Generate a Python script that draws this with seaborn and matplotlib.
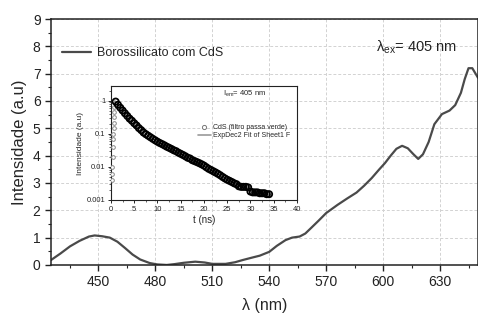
import numpy as np
import pandas as pd
import matplotlib
matplotlib.use("Agg")
import matplotlib.pyplot as plt
import seaborn as sns
from matplotlib.ticker import MultipleLocator, FixedLocator, FixedFormatter
from matplotlib.lines import Line2D

# emission spectrum (main plot)
wavelength = [425, 430, 435, 440, 445, 448, 452, 456, 460, 464, 468, 472, 477,
              481, 486, 490, 495, 501, 506, 510, 517, 522, 526, 531, 535, 540,
              544, 548.6, 552, 556, 559, 562, 566, 570, 576, 581, 586, 590, 594,
              598, 601, 604, 607, 610, 613, 616, 618.5, 621, 624, 627, 631, 635,
              638, 641, 643, 645, 647, 650]
intensity = [0.18, 0.42, 0.68, 0.88, 1.04, 1.08, 1.05, 1.0, 0.85, 0.62, 0.38, 0.2, 0.07,
             0.02, 0.0, 0.03, 0.08, 0.12, 0.09, 0.04, 0.04, 0.1, 0.18, 0.27, 0.34, 0.48,
             0.7, 0.91, 1.0, 1.04, 1.15, 1.35, 1.62, 1.9, 2.2, 2.43, 2.65, 2.9, 3.18,
             3.5, 3.73, 4.0, 4.25, 4.36, 4.27, 4.05, 3.88, 4.05, 4.5, 5.15, 5.52, 5.65,
             5.85, 6.3, 6.8, 7.2, 7.2, 6.85]

# decay (inset): rising edge, then decay every 0.5 ns
rise_t = [0.2, 0.25, 0.3, 0.35, 0.4, 0.45, 0.5, 0.55, 0.6, 0.65, 0.7, 0.75, 0.8]
rise_val = [0.004, 0.006, 0.01, 0.02, 0.04, 0.07, 0.1, 0.15, 0.22, 0.32, 0.47, 0.65, 0.85]
decay_t = [1, 1.5, 2, 2.5, 3, 3.5, 4, 4.5, 5, 5.5, 6, 6.5, 7, 7.5, 8, 8.5, 9, 9.5,
           10, 10.5, 11, 11.5, 12, 12.5, 13, 13.5, 14, 14.5, 15, 15.5, 16, 16.5,
           17, 17.5, 18, 18.5, 19, 19.5, 20, 20.5, 21, 21.5, 22, 22.5, 23, 23.5,
           24, 24.5, 25, 25.5, 26, 26.5, 27, 27.5, 28, 28.5, 29, 29.5, 30, 30.5,
           31, 31.5, 32, 32.5, 33, 33.5, 34]
decay_val = [0.95, 0.76, 0.62, 0.51, 0.42, 0.35, 0.29, 0.25, 0.21, 0.18, 0.15, 0.13,
             0.11, 0.098, 0.088, 0.079, 0.071, 0.064, 0.058, 0.053, 0.049, 0.045,
             0.041, 0.038, 0.035, 0.032, 0.030, 0.027, 0.025, 0.023, 0.021, 0.019,
             0.018, 0.016, 0.015, 0.014, 0.013, 0.012, 0.011, 0.0098, 0.0088, 0.0081,
             0.0074, 0.0068, 0.0062, 0.0056, 0.0050, 0.0045, 0.0041, 0.0038, 0.0035,
             0.0032, 0.0030, 0.0026, 0.0025, 0.0025, 0.0025, 0.0024, 0.0018, 0.0017,
             0.0017, 0.0017, 0.0016, 0.0016, 0.0016, 0.0015, 0.0015]
fit_t = [0.8, 2, 4, 6, 8, 10, 13, 16, 20, 24, 28, 32, 34.5]
fit_val = [1.0, 0.6, 0.29, 0.15, 0.088, 0.058, 0.035, 0.021, 0.011, 0.005, 0.0026, 0.0016, 0.0014]

spec = pd.DataFrame({"wl": wavelength, "I": intensity})
rise = pd.DataFrame({"t": rise_t, "v": rise_val})
dec = pd.DataFrame({"t": decay_t, "v": decay_val})
fit = pd.DataFrame({"t": fit_t, "v": fit_val})

sns.set_style("ticks")
plt.rcParams["font.family"] = ["Liberation Sans", "DejaVu Sans"]
plt.rcParams["mathtext.default"] = "regular"

fig = plt.figure(figsize=(4.78, 3.2), dpi=100)
ax = fig.add_axes([0.1067, 0.172, 0.8933, 0.7686])

grid_kw = dict(color="#d2d2d2", linestyle=(0, (3, 2)), linewidth=0.7)
ax.grid(True, **grid_kw)
sns.lineplot(data=spec, x="wl", y="I", ax=ax, color="#4a4a4a", linewidth=1.6,
             label="Borossilicato com CdS")
ax.set_xlim(425, 650)
ax.set_ylim(0, 9)
ax.xaxis.set_major_locator(FixedLocator([450, 480, 510, 540, 570, 600, 630]))
ax.xaxis.set_minor_locator(MultipleLocator(15))
ax.yaxis.set_major_locator(MultipleLocator(1))
ax.yaxis.set_minor_locator(MultipleLocator(0.5))
ax.tick_params(which="major", direction="out", length=4, width=1, labelsize=10, colors="#222")
ax.tick_params(which="minor", direction="out", length=2.5, width=0.8)
for s in ax.spines.values():
    s.set_linewidth(1.1)
    s.set_color("#222")
ax.set_xlabel("λ (nm)", fontsize=11.5, labelpad=6)
ax.set_ylabel("Intensidade (a.u)", fontsize=12, labelpad=4)
leg = ax.legend(loc="upper left", bbox_to_anchor=(0.0, 0.93), frameon=False,
                fontsize=9, handlelength=2.3, handletextpad=0.5)
ax.text(0.762, 0.885, "$\\lambda_{ex}$= 405 nm", transform=ax.transAxes, fontsize=10.5,
        color="#222", va="center")

# inset
ins = fig.add_axes([0.2322, 0.375, 0.3891, 0.356])
ins.set_facecolor("none")
sns.lineplot(data=fit, x="t", y="v", ax=ins, color="#9a9a9a", linewidth=1.2, zorder=2)
sns.scatterplot(data=rise, x="t", y="v", ax=ins, marker="o", s=7,
                facecolor="white", edgecolor="#888", linewidth=0.7, zorder=3)
sns.scatterplot(data=dec, x="t", y="v", ax=ins, marker="o", s=20,
                facecolor="none", edgecolor="#000", linewidth=1.3, zorder=3)
ins.set_yscale("log")
ins.set_xlim(0, 40)
ins.set_ylim(0.001, 2.8)
ins.xaxis.set_major_locator(MultipleLocator(5))
ins.xaxis.set_minor_locator(MultipleLocator(2.5))
ins.yaxis.set_major_locator(FixedLocator([0.001, 0.01, 0.1, 1]))
ins.yaxis.set_major_formatter(FixedFormatter(["0.001", "0.01", "0.1", "1"]))
ins.tick_params(which="major", direction="out", length=2.5, width=0.7, labelsize=5.5, pad=1.5)
ins.tick_params(which="minor", direction="out", length=1.5, width=0.5)
for s in ins.spines.values():
    s.set_linewidth(0.8)
    s.set_color("#222")
ins.set_xlabel("t (ns)", fontsize=7, labelpad=2)
ins.set_ylabel("Intensidade (a.u)", fontsize=6, labelpad=2)
handles = [Line2D([], [], linestyle="none", marker="o", markersize=3,
                  markerfacecolor="white", markeredgecolor="#777", markeredgewidth=0.7),
           Line2D([], [], color="#9a9a9a", linewidth=1.2)]
ins.legend(handles, ["CdS (filtro passa verde)", "ExpDec2 Fit of Sheet1 F"],
           loc="center right", bbox_to_anchor=(1.0, 0.6), frameon=False, fontsize=5,
           handlelength=1.8, handletextpad=0.4, labelspacing=0.2)
ins.text(0.6, 0.93, "I$_{em}$= 405 nm", transform=ins.transAxes, fontsize=5.5, va="center")

fig.savefig("out.png", dpi=100)
